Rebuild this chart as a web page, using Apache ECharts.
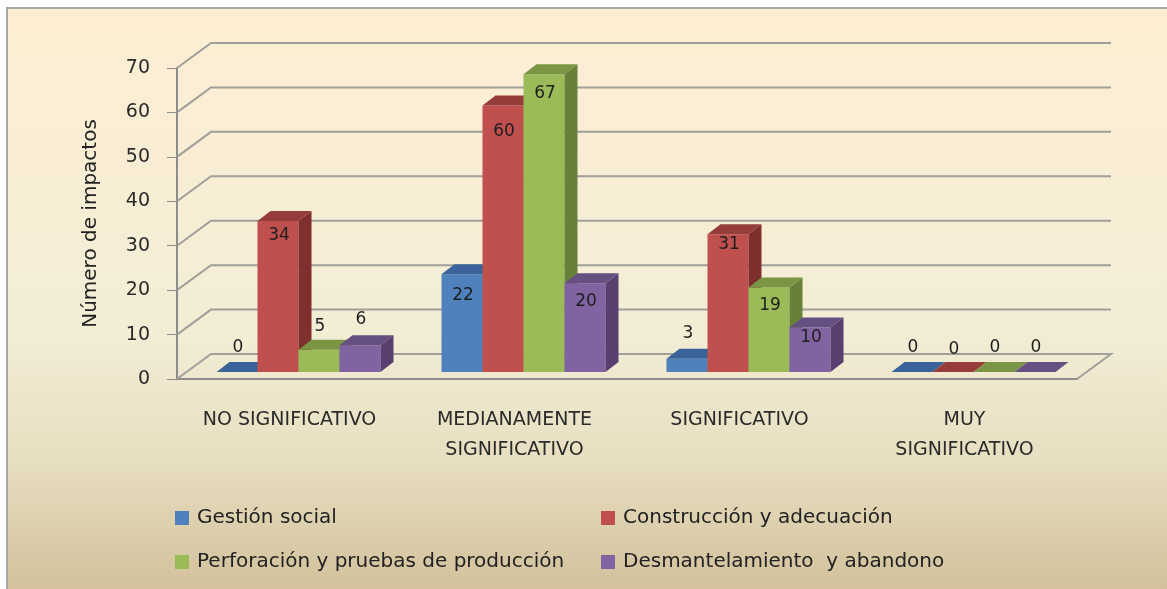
<!DOCTYPE html>
<html>
<head>
<meta charset="utf-8">
<style>html,body{margin:0;padding:0;background:#fff}#echart{width:1167px;height:589px}</style>
<script src="https://cdn.jsdelivr.net/npm/echarts@6/dist/echarts.min.js"></script>
</head>
<body>
<div id="echart"></div>
<script>
var categories = ['NO SIGNIFICATIVO', 'MEDIANAMENTE\nSIGNIFICATIVO', 'SIGNIFICATIVO', 'MUY\nSIGNIFICATIVO'];
var gestionSocial = [0, 22, 3, 0];
var construccion = [34, 60, 31, 0];
var perforacion = [5, 67, 19, 0];
var desmantelamiento = [6, 20, 10, 0];
var yTicks = [0, 10, 20, 30, 40, 50, 60, 70];

// where each label sits against the top of its bar (px, + is down)
var labelShift = [
    [-24, 21, -25, -24],
    [15, 26, 10, -22],
    [-23, 19, 18, -24],
    [-26, 18, 10, -24]
];

var fontName = '"DejaVu Sans"';
var backX = 34, backY = -25;   // depth of the whole plot
var barX = 9, barY = -7;       // bars stand a bit behind the front edge
var topX = 13, topY = -10;     // depth of one bar
var barW = 41;

function bar3d(seriesIdx, colors) {
    return function (params, api) {
        var cat = api.value(0), val = api.value(1);
        var p0 = api.coord([cat, 0]), p1 = api.coord([cat, val]);
        var x0 = p0[0] + barX + (seriesIdx - 2) * barW;
        var x1 = x0 + barW;
        var yb = p0[1] + barY, yt = p1[1] + barY;
        var kids = [];
        if (val > 0) {
            kids.push({
                type: 'rect',
                shape: { x: x0, y: yt, width: barW, height: yb - yt },
                style: { fill: colors[0] }
            });
            kids.push({
                type: 'polygon',
                shape: { points: [[x1, yt], [x1 + topX, yt + topY], [x1 + topX, yb + topY], [x1, yb]] },
                style: { fill: colors[2] }
            });
        }
        kids.push({
            type: 'polygon',
            shape: { points: [[x0, yt], [x0 + topX, yt + topY], [x1 + topX, yt + topY], [x1, yt]] },
            style: { fill: colors[1] }
        });
        kids.push({
            type: 'text',
            z2: 10,
            style: {
                x: x0 + barW / 2 + 1,
                y: yt + labelShift[seriesIdx][params.dataIndex],
                text: String(val),
                fill: '#1e1e1e',
                font: '17px ' + fontName,
                align: 'center',
                verticalAlign: 'middle'
            }
        });
        return { type: 'group', children: kids };
    };
}

function walls(params, api) {
    var val = api.value(1);
    var p = api.coord([0, val]);
    var left = params.coordSys.x, right = left + params.coordSys.width;
    var pts = [[left, p[1]], [left + backX, p[1] + backY], [right + backX, p[1] + backY]];
    if (val === 0) {
        pts.push([right, p[1]]);
    }
    return {
        type: 'polyline',
        shape: { points: pts },
        style: { fill: null, stroke: '#a09f99', lineWidth: 2 }
    };
}

function makeBars(name, values, idx, colors) {
    return {
        name: name,
        type: 'custom',
        z: 3 + idx,
        clip: false,
        silent: true,
        itemStyle: { color: colors[0] },
        renderItem: bar3d(idx, colors),
        data: values.map(function (v, i) { return [i, v]; })
    };
}

var names = ['Gestión social', 'Construcción y adecuación', 'Perforación y pruebas de producción', 'Desmantelamiento  y abandono'];

function legendCol(left, items) {
    return {
        left: left,
        top: 508,
        padding: 0,
        orient: 'vertical',
        icon: 'rect',
        itemWidth: 14,
        itemHeight: 14,
        itemGap: 24,
        data: items,
        textStyle: { color: '#222', fontSize: 20, padding: [0, 0, 0, 3] }
    };
}

var myChart = echarts.init(document.getElementById('echart'));
var option = {
    animation: false,
    backgroundColor: '#fff',
    textStyle: { fontFamily: fontName },
    graphic: [{
        type: 'rect',
        z: -10,
        // runs off the right and bottom so only the top and left edges show
        shape: { x: 7, y: 8, width: 1170, height: 590 },
        style: {
            stroke: '#a8a8a8',
            lineWidth: 2,
            fill: new echarts.graphic.LinearGradient(0, 0, 0, 1, [
                { offset: 0, color: '#fdeed3' },
                { offset: 0.55, color: '#f3edd6' },
                { offset: 0.76, color: '#e8dfc2' },
                { offset: 0.985, color: '#d2c19b' },
                { offset: 1, color: '#d2c19b' }
            ])
        }
    }],
    grid: { left: 177, top: 68, width: 900, height: 311 },
    xAxis: {
        type: 'category',
        data: categories,
        axisLine: { lineStyle: { color: '#8c8c8c', width: 2 } },
        axisTick: { length: 10, lineStyle: { color: '#8c8c8c', width: 1 } },
        axisLabel: { color: '#2a2a2a', fontSize: 19, lineHeight: 30, margin: 26, interval: 0 }
    },
    yAxis: {
        type: 'value',
        min: 0,
        max: 70,
        interval: 10,
        name: 'Número de impactos',
        nameLocation: 'middle',
        nameGap: 76,
        nameTextStyle: { color: '#222', fontSize: 20 },
        axisLine: { show: true, lineStyle: { color: '#8c8c8c', width: 2 } },
        axisTick: { show: true, length: 10, lineStyle: { color: '#8c8c8c', width: 1 } },
        axisLabel: { color: '#2a2a2a', fontSize: 19, margin: 27, padding: [6, 0, 0, 0] },
        splitLine: { show: false }
    },
    legend: [
        legendCol(175, [names[0], names[2]]),
        legendCol(601, [names[1], names[3]])
    ],
    series: [
        {
            type: 'custom',
            z: 1,
            clip: false,
            silent: true,
            renderItem: walls,
            data: yTicks.map(function (t) { return [0, t]; })
        },
        makeBars(names[0], gestionSocial, 0, ['#4f81bd', '#3a6499', '#2f4d71']),
        makeBars(names[1], construccion, 1, ['#c0504d', '#963c3a', '#7f2f2d']),
        makeBars(names[2], perforacion, 2, ['#9bbb59', '#7a9645', '#67803a']),
        makeBars(names[3], desmantelamiento, 3, ['#8064a2', '#664f81', '#573f70'])
    ]
};
myChart.setOption(option);
</script>
</body>
</html>
